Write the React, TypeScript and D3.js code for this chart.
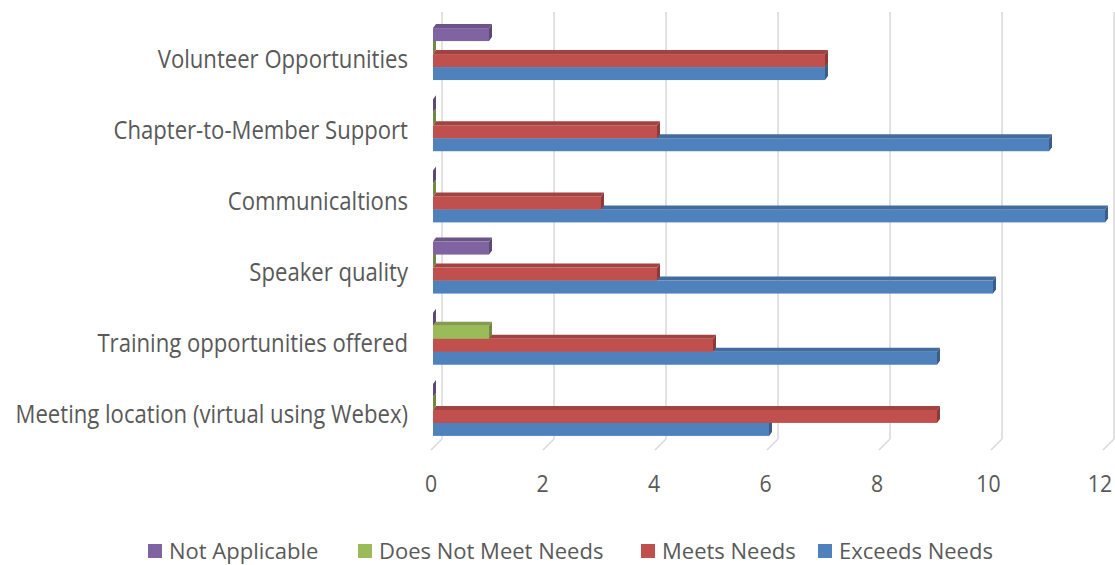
import { useEffect, useRef } from 'react';
import * as d3 from 'd3';

const categories = [
  'Volunteer Opportunities',
  'Chapter-to-Member Support',
  'Communicaltions',
  'Speaker quality',
  'Training opportunities offered',
  'Meeting location (virtual using Webex)',
];
const seriesNames = ['Not Applicable', 'Does Not Meet Needs', 'Meets Needs', 'Exceeds Needs'];
const notApplicable = [1, 0, 0, 1, 0, 0];
const doesNotMeetNeeds = [0, 0, 0, 0, 1, 0];
const meetsNeeds = [7, 4, 3, 4, 5, 9];
const exceedsNeeds = [7, 11, 12, 10, 9, 6];
const xTicks = [0, 2, 4, 6, 8, 10, 12];
const colors = ['#8064A2', '#9BBB59', '#C0504D', '#4F81BD'];

const W = 1115;
const H = 565;
const FONT = "'Open Sans', sans-serif";
const TEXT = '#595959';
const SX = 0.885; // squeeze text horizontally, original looks a bit condensed

export default function App() {
  const svgRef = useRef<SVGSVGElement>(null);

  useEffect(() => {
    if (!svgRef.current) return;
    const svg = d3.select(svgRef.current);
    svg.selectAll('*').remove();

    const values = [notApplicable, doesNotMeetNeeds, meetsNeeds, exceedsNeeds];
    const dx = 3;
    const dy = 4;

    const x = d3.scaleLinear().domain([0, 12]).range([433, 1105]);
    // tick labels sit on the floor's front edge, slightly compressed
    const xLabel = d3.scaleLinear().domain([0, 12]).range([431, 1100]);
    const y = d3
      .scaleBand<string>()
      .domain(categories)
      .range([16, 448])
      .paddingInner(0.27)
      .paddingOuter(0.17);
    const ys = d3
      .scaleBand<string>()
      .domain(seriesNames)
      .range([0, y.bandwidth()]);

    // back wall grid lines + floor ticks
    const grid = svg.append('g');
    xTicks.forEach((t) => {
      const gx = x(t) + 9;
      grid
        .append('line')
        .attr('x1', gx)
        .attr('x2', gx)
        .attr('y1', 12)
        .attr('y2', 439)
        .attr('stroke', '#d9d9d9')
        .attr('stroke-width', 1.5);
      grid
        .append('line')
        .attr('x1', x(t) - 2)
        .attr('y1', 450)
        .attr('x2', gx)
        .attr('y2', 439)
        .attr('stroke', '#d9d9d9')
        .attr('stroke-width', 1.5);
    });

    // bars, drawn from the bottom series up so upper fronts cover lower top faces
    const bars = svg.append('g');
    categories.forEach((cat, ci) => {
      for (let si = seriesNames.length - 1; si >= 0; si--) {
        const v = values[si][ci];
        const c = d3.color(colors[si])!;
        const x0 = x(0);
        const x1 = x(v);
        const top = y(cat)! + ys(seriesNames[si])!;
        const h = ys.bandwidth();
        bars
          .append('rect')
          .attr('x', x0)
          .attr('y', top)
          .attr('width', x1 - x0)
          .attr('height', h)
          .attr('fill', colors[si]);
        bars
          .append('polygon')
          .attr(
            'points',
            [
              [x0, top],
              [x0 + dx, top - dy],
              [x1 + dx, top - dy],
              [x1, top],
            ].join(' ')
          )
          .attr('fill', c.darker(0.5).toString());
        bars
          .append('polygon')
          .attr(
            'points',
            [
              [x1, top],
              [x1 + dx, top - dy],
              [x1 + dx, top + h - dy],
              [x1, top + h],
            ].join(' ')
          )
          .attr('fill', c.darker(0.9).toString());
      }
    });

    // category labels
    const labels = svg.append('g');
    categories.forEach((cat) => {
      labels
        .append('text')
        .attr('transform', `translate(408,${y(cat)! + y.bandwidth() / 2 + 4}) scale(${SX},1)`)
        .attr('text-anchor', 'end')
        .attr('dominant-baseline', 'central')
        .attr('font-family', FONT)
        .attr('font-size', 25)
        .attr('fill', TEXT)
        .text(cat);
    });

    // x tick labels
    xTicks.forEach((t) => {
      svg
        .append('text')
        .attr('transform', `translate(${xLabel(t)},483) scale(${SX},1)`)
        .attr('text-anchor', 'middle')
        .attr('dominant-baseline', 'central')
        .attr('font-family', FONT)
        .attr('font-size', 24)
        .attr('fill', TEXT)
        .text(t);
    });

    // legend
    const legendX = [148, 358, 641, 818];
    seriesNames.forEach((name, i) => {
      const lg = svg.append('g').attr('transform', `translate(${legendX[i]},550)`);
      lg.append('rect')
        .attr('x', 0)
        .attr('y', -6)
        .attr('width', 14)
        .attr('height', 14)
        .attr('fill', colors[i]);
      lg.append('text')
        .attr('x', 21)
        .attr('dominant-baseline', 'central')
        .attr('font-family', FONT)
        .attr('font-size', 22)
        .attr('fill', TEXT)
        .text(name);
    });
  }, []);

  return (
    <svg
      ref={svgRef}
      width={W}
      height={H}
      style={{ position: 'absolute', left: 0, top: 0, background: '#fff' }}
    />
  );
}
